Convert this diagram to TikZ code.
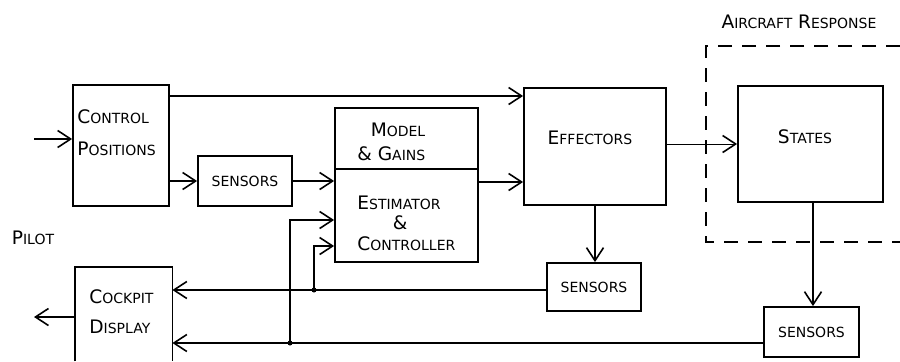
\documentclass[tikz,border=0pt]{standalone}
\usepackage{fontspec}
\setmainfont{DejaVu Sans}
\usetikzlibrary{arrows.meta}
\newcommand\BigL[1]{{\fontsize{9.3}{10}\selectfont #1}}
\newcommand\SmL[1]{{\fontsize{7}{8}\selectfont #1}}
\tikzset{
  box/.style={draw, line width=0.9pt, inner sep=0pt},
  lbl/.style={inner sep=0pt, font=\fontsize{9}{10}\selectfont},
  arr/.style={-{Straight Barb[length=6.5pt,width=8.5pt,line width=0.8pt]}},
  wire/.style={line width=0.9pt},
  dot/.style={circle, fill, inner sep=0pt, minimum size=2.5pt},
}
\begin{document}
\begin{tikzpicture}[x=0.5pt,y=-0.5pt]
\useasboundingbox (0,0) rectangle (900,361);
% boxes
\node[box, minimum width=48pt, minimum height=60.5pt] (ctrl) at (121,145.5) {};
\node[box, minimum width=47pt, minimum height=25pt] (sens1) at (245,181) {\SmL{SENSORS}};
\node[box, minimum width=71.5pt, minimum height=30.5pt] (model) at (406.5,138.5) {};
\node[box, minimum width=71.5pt, minimum height=46.5pt] (est) at (406.5,215.5) {};
\node[box, minimum width=71pt, minimum height=58.5pt] (eff) at (595,146.5) {};
\node[box, minimum width=72.5pt, minimum height=58pt] (states) at (810.5,144) {};
\node[box, minimum width=47pt, minimum height=24pt] (sens2) at (594,287) {\SmL{SENSORS}};
\node[box, minimum width=47.5pt, minimum height=25pt] (sens3) at (811.5,332) {\SmL{SENSORS}};
\node[inner sep=0pt, minimum width=48.5pt, minimum height=47pt] (cockpit) at (123.5,314) {};
\draw[wire] (cockpit.south west) |- (cockpit.north east) -- (cockpit.south east);
% texts
\node[lbl, anchor=base west] (t1) at (77,123) {\BigL{C}\SmL{ONTROL}};
\node[lbl, anchor=base west] (t2) at (77,155) {\BigL{P}\SmL{OSITIONS}};
\node[lbl, anchor=base] (t3) at (398,136) {\BigL{M}\SmL{ODEL}};
\node[lbl, anchor=base west] (t4) at (357,160) {\BigL{\& G}\SmL{AINS}};
\node[lbl, anchor=base west] (t5) at (357,209) {\BigL{E}\SmL{STIMATOR}};
\node[lbl, anchor=base] (t6) at (400,229) {\BigL{\&}};
\node[lbl, anchor=base west] (t7) at (357,250) {\BigL{C}\SmL{ONTROLLER}};
\node[lbl, anchor=base] (t10) at (590,144) {\BigL{E}\SmL{FFECTORS}};
\node[lbl, anchor=base] (t11) at (805,143) {\BigL{S}\SmL{TATES}};
\node[lbl, anchor=base west] (t8) at (89,303) {\BigL{C}\SmL{OCKPIT}};
\node[lbl, anchor=base west] (t9) at (89,333) {\BigL{D}\SmL{ISPLAY}};
\node[lbl] (pilot) at (33,238) {\BigL{P}\SmL{ILOT}};
\node[lbl] (acr) at (799,22) {\BigL{A}\SmL{IRCRAFT} \BigL{R}\SmL{ESPONSE}};
% dashed region
\coordinate (d1) at (900,46);
\coordinate (d2) at (706,46);
\coordinate (d3) at (706,242);
\coordinate (d4) at (900,242);
\draw[line width=0.8pt, dash pattern=on 7pt off 5pt] (d1) -- (d2) -- (d3) -- (d4);
% connectors
\coordinate (inL) at (34,139);
\coordinate (outL) at (34,317);
\coordinate (j1) at (314,290);
\coordinate (j2) at (290,343);
\draw[wire,arr] (inL) -- (ctrl.west|-inL);
\draw[wire,arr] (ctrl.east|-0,96) -- (eff.west|-0,96);
\draw[wire,arr] (ctrl.east|-sens1) -- (sens1.west);
\draw[wire,arr] (sens1.east) -- (est.west|-sens1.east);
\draw[wire,arr] (est.east|-0,182) -- (eff.west|-0,182);
\draw[line width=0.5pt,arr] (eff.east|-0,144) -- (states.west|-0,144);
\draw[wire,arr] (eff.south) -- (sens2.north-|eff.south);
\draw[wire,arr] (states.south-|813,0) -- (sens3.north-|813,0);
\draw[wire,arr] (sens2.west|-j1) -- (cockpit.east|-j1);
\draw[wire,arr] (sens3.west|-j2) -- (cockpit.east|-j2);
\draw[wire,arr] (j1) |- (est.west|-0,246);
\draw[wire,arr] (j2) |- (est.west|-0,220);
\node[dot] (dt1) at (j1) {};
\node[dot] (dt2) at (j2) {};
\draw[wire,arr] (cockpit.west|-outL) -- (outL);
\end{tikzpicture}
\end{document}
